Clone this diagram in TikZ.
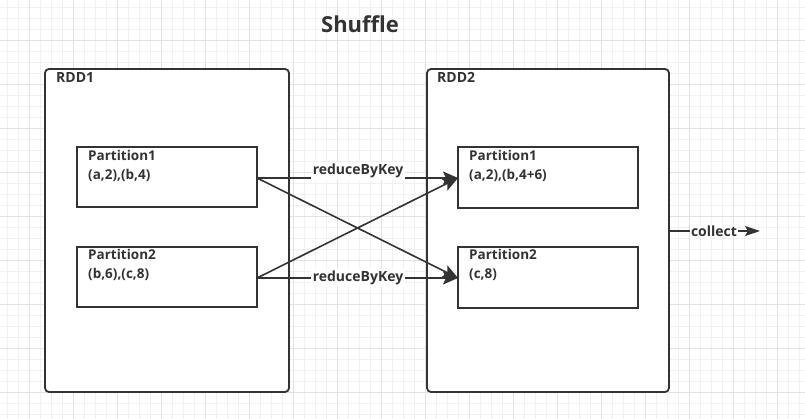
\documentclass[tikz,border=0pt]{standalone}
\usepackage{fontspec}
\setmainfont{Open Sans}
\usetikzlibrary{arrows.meta}
\definecolor{ink}{HTML}{333333}
\definecolor{gridminor}{HTML}{F1F1F1}
\definecolor{gridmajor}{HTML}{E2E2E2}
\tikzset{
  rddbox/.style={draw=ink, line width=1.8pt, fill=white, rounded corners=4pt},
  partbox/.style={draw=ink, line width=1.8pt, fill=white, inner sep=0pt},
  boxlabel/.style={text=ink, font=\bfseries\fontsize{13.5}{19}\selectfont, anchor=north west, align=left, inner sep=0pt},
  rddlabel/.style={text=ink, font=\bfseries\fontsize{14}{18}\selectfont, anchor=north west, inner sep=0pt},
  flow/.style={draw=ink, line width=1.6pt, -{Stealth[length=15pt,width=13pt,inset=3pt]}},
  edgelabel/.style={text=ink, font=\bfseries\fontsize{14}{17}\selectfont, fill=white, inner sep=2pt},
}
\begin{document}
\begin{tikzpicture}[x=1pt, y=-1pt]
  \useasboundingbox (0,0) rectangle (805,419);
  \fill[white] (0,0) rectangle (805,419);
  % background grid: minor every 11, major every 44
  \foreach \i in {0,...,73} {
    \pgfmathsetmacro{\gx}{7.5+11*\i}
    \draw[gridminor, line width=0.8pt] (\gx,0) -- (\gx,419);
  }
  \foreach \i in {0,...,38} {
    \pgfmathsetmacro{\gy}{7+11*\i}
    \draw[gridminor, line width=0.8pt] (0,\gy) -- (805,\gy);
  }
  \foreach \i in {0,...,18} {
    \pgfmathsetmacro{\gx}{29.5+44*\i}
    \draw[gridmajor, line width=0.8pt] (\gx,0) -- (\gx,419);
  }
  \foreach \i in {0,...,9} {
    \pgfmathsetmacro{\gy}{40+44*\i}
    \draw[gridmajor, line width=0.8pt] (0,\gy) -- (805,\gy);
  }

  % title
  \node[text=ink, font=\bfseries\fontsize{22}{26}\selectfont] (title) at (360,24) {Shuffle};

  % containers
  \draw[rddbox] (45,69) rectangle (289,392);
  \draw[rddbox] (427,69) rectangle (669,392);
  \coordinate (rdd2east) at (669,231);
  \node[rddlabel] (rdd1label) at (56,72) {RDD1};
  \node[rddlabel] (rdd2label) at (437,72) {RDD2};

  % partitions
  \node[partbox, minimum width=180pt, minimum height=60pt] (l1) at (167,177) {};
  \node[partbox, minimum width=180pt, minimum height=60pt] (l2) at (167,277) {};
  \node[partbox, minimum width=180pt, minimum height=61pt] (r1) at (548,177.5) {};
  \node[partbox, minimum width=180pt, minimum height=61pt] (r2) at (548,277.5) {};

  \node[boxlabel] (l1text) at (88,150) {Partition1\\(a,2),(b,4)};
  \node[boxlabel] (l2text) at (88,249) {Partition2\\(b,6),(c,8)};
  \node[boxlabel] (r1text) at (469,150) {Partition1\\(a,2),(b,4+6)};
  \node[boxlabel] (r2text) at (469,249) {Partition2\\(c,8)};

  % shuffle connectors
  \coordinate (l1out) at (257,178);
  \coordinate (l2out) at (257,278);
  \coordinate (r1in) at (458,178);
  \coordinate (r2in) at (458,278);
  \draw[flow] (l1out) -- (r2in);
  \draw[flow] (l2out) -- (r1in);
  \draw[flow] (l1out) -- (r1in);
  \draw[flow] (l2out) -- (r2in);
  \node[edgelabel] (rbk1) at (358,171) {reduceByKey};
  \node[edgelabel] (rbk2) at (358,278) {reduceByKey};

  % collect
  \coordinate (out) at (760,231);
  \draw[draw=ink, line width=1.6pt, -{Stealth[length=15pt,width=10pt,inset=3pt]}] (rdd2east) -- (out);
  \node[edgelabel, inner sep=1pt] (collect) at (714,231) {collect};
\end{tikzpicture}
\end{document}
